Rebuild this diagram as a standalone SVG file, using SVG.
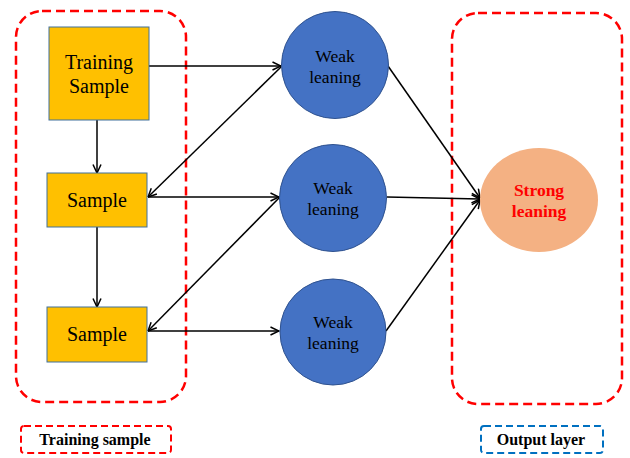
<svg xmlns="http://www.w3.org/2000/svg" width="630" height="458" viewBox="0 0 630 458">
  <style>
    .sample { fill: #FFC000; stroke: #41719C; stroke-width: 1; }
    .weak { fill: #4472C4; stroke: #2F528F; stroke-width: 1; }
    .strong { fill: #F4B183; stroke: none; }
    .node-text { font-family: "Liberation Serif", "Times New Roman", serif; fill: #000; text-anchor: middle; }
    .strong-text { font-family: "Liberation Serif", "Times New Roman", serif; font-weight: bold; fill: #FF0000; text-anchor: middle; font-size: 17.5px; }
    .label-text { font-family: "Liberation Serif", "Times New Roman", serif; font-weight: bold; fill: #000; text-anchor: middle; font-size: 16px; }
    .group-box { fill: none; stroke: #FF0000; stroke-width: 2.5; stroke-dasharray: 9 5; }
    .label-red { fill: none; stroke: #FF0000; stroke-width: 2; stroke-dasharray: 7 4; }
    .label-blue { fill: none; stroke: #0070C0; stroke-width: 2; stroke-dasharray: 7 4; }
    .edge { stroke: #000; stroke-width: 1.5; fill: none; marker-end: url(#arrow); }
    .edge-plain { stroke: #000; stroke-width: 1.5; fill: none; }
  </style>
  <defs>
    <marker id="arrow" viewBox="0 0 10 10" refX="9.5" refY="5" markerWidth="10" markerHeight="10" markerUnits="userSpaceOnUse" orient="auto">
      <path d="M1,1 L9.5,5 L1,9" fill="none" stroke="#000" stroke-width="1.5"/>
    </marker>
  </defs>

  <rect width="630" height="458" fill="#FFFFFF"/>

  <!-- grouping frames -->
  <g id="frames">
    <rect class="group-box" x="16" y="11" width="170" height="391" rx="26" ry="26"/>
    <rect class="group-box" x="452" y="13" width="170" height="391" rx="26" ry="26"/>
  </g>

  <!-- connectors -->
  <g id="connectors">
    <line class="edge" x1="149" y1="66" x2="281" y2="66"/>
    <line class="edge" x1="97" y1="120" x2="97" y2="173"/>
    <line class="edge" x1="97" y1="227" x2="97" y2="307"/>
    <line class="edge" x1="281" y1="67" x2="148" y2="197"/>
    <line class="edge" x1="148" y1="197" x2="279" y2="197"/>
    <line class="edge" x1="279" y1="198" x2="148" y2="331"/>
    <line class="edge" x1="148" y1="331" x2="279" y2="331"/>
    <line class="edge" x1="388" y1="66" x2="480" y2="198"/>
    <line class="edge" x1="387" y1="197" x2="480" y2="199"/>
    <line class="edge" x1="386" y1="331" x2="480" y2="200"/>
  </g>

  <g id="training-sample">
    <rect class="sample" x="49" y="27" width="100" height="93"/>
    <text class="node-text" font-size="20" x="99" y="69">Training</text>
    <text class="node-text" font-size="20" x="99" y="93">Sample</text>
  </g>

  <g id="sample-1">
    <rect class="sample" x="47" y="173" width="100" height="54"/>
    <text class="node-text" font-size="20" x="97" y="207">Sample</text>
  </g>

  <g id="sample-2">
    <rect class="sample" x="47" y="307" width="100" height="55"/>
    <text class="node-text" font-size="20" x="97" y="341">Sample</text>
  </g>

  <g id="weak-1">
    <circle class="weak" cx="335" cy="65" r="53.5"/>
    <text class="node-text" font-size="17.5" x="335" y="62">Weak</text>
    <text class="node-text" font-size="17.5" x="335" y="83">leaning</text>
  </g>

  <g id="weak-2">
    <circle class="weak" cx="333" cy="198" r="53.5"/>
    <text class="node-text" font-size="17.5" x="333" y="194">Weak</text>
    <text class="node-text" font-size="17.5" x="333" y="215">leaning</text>
  </g>

  <g id="weak-3">
    <circle class="weak" cx="333" cy="332" r="53"/>
    <text class="node-text" font-size="17.5" x="333" y="328">Weak</text>
    <text class="node-text" font-size="17.5" x="333" y="349">leaning</text>
  </g>

  <g id="strong">
    <ellipse class="strong" cx="539" cy="200" rx="59" ry="52"/>
    <text class="strong-text" x="539" y="196">Strong</text>
    <text class="strong-text" x="539" y="217">leaning</text>
  </g>

  <g id="label-training">
    <rect class="label-red" x="21" y="426" width="150" height="27" rx="3"/>
    <text class="label-text" x="95" y="445">Training sample</text>
  </g>

  <g id="label-output">
    <rect class="label-blue" x="481" y="426" width="122" height="27" rx="3"/>
    <text class="label-text" x="541" y="445">Output layer</text>
  </g>
</svg>
